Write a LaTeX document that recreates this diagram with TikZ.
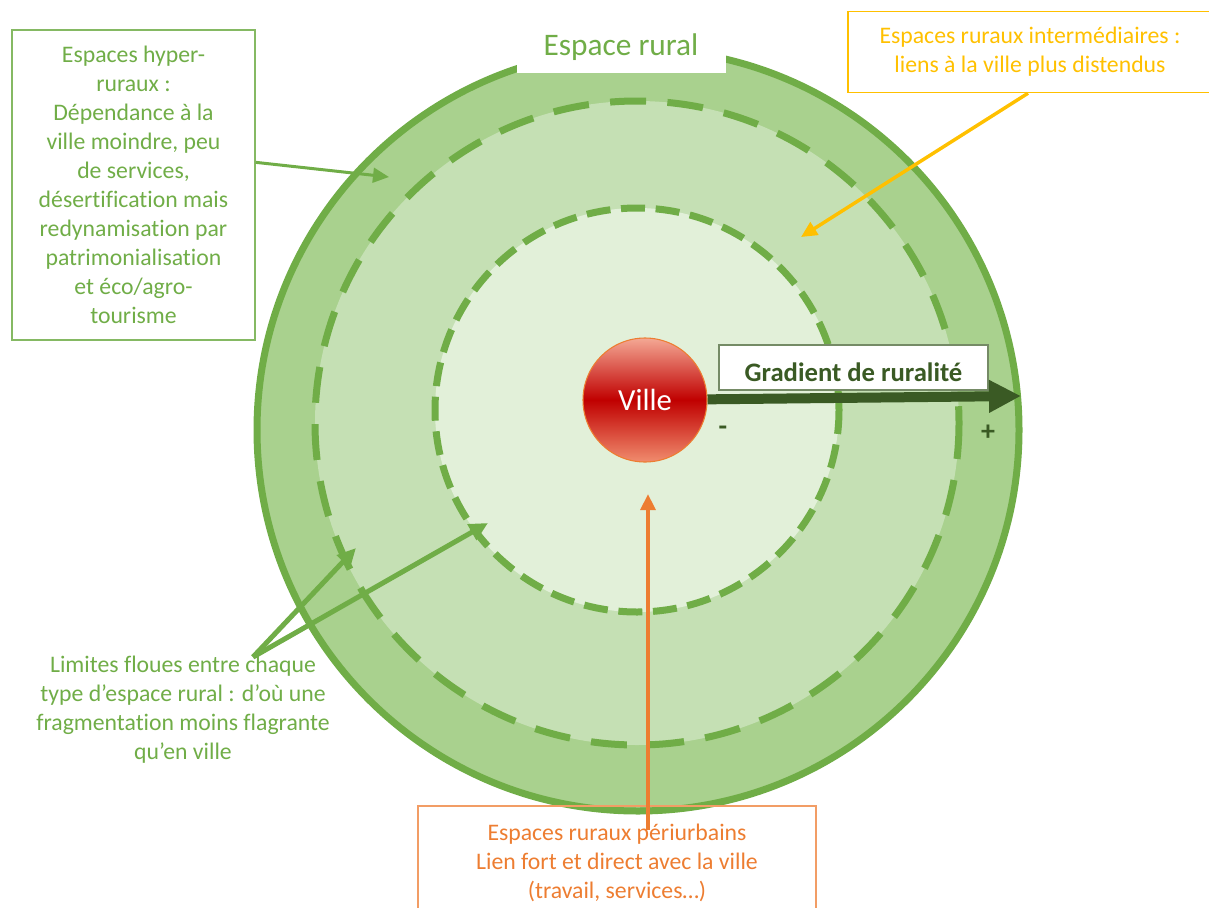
\documentclass[tikz,border=0pt]{standalone}
\usepackage{fontspec}
\setmainfont{Carlito}[Ligatures=NoCommon]
\usetikzlibrary{arrows.meta}

\definecolor{ruralgreen}{HTML}{70AD47}
\definecolor{outerfill}{HTML}{A9D18E}
\definecolor{middlefill}{HTML}{C5E0B4}
\definecolor{innerfill}{HTML}{E2F0D9}
\definecolor{darkgreen}{HTML}{3A5A24}
\definecolor{periorange}{HTML}{ED7D31}
\definecolor{interyellow}{HTML}{FFC000}
\definecolor{villetop}{HTML}{F4A894}
\definecolor{villemid}{HTML}{C00000}
\definecolor{villebot}{HTML}{F08C6E}

\tikzstyle{zonetext} = [font=\fontsize{17.8}{21.75}\selectfont, align=center, inner sep=0pt]
\tikzstyle{zonebox} = [zonetext, draw, line width=1.1pt]
\tikzstyle{ring} = [draw=ruralgreen, line width=5.25pt]
\tikzstyle{ville} = [circle, draw=periorange, line width=0.8pt, minimum size=93pt,
    top color=villetop, bottom color=villebot, middle color=villemid,
    text=white, font=\fontsize{23}{27}\selectfont]
\tikzstyle{pointer} = [draw, -{Triangle[length=12pt, width=11pt]}]
\tikzstyle{sign} = [zonetext, text=darkgreen, font=\fontsize{21}{24}\selectfont\bfseries]

\begin{document}
\begin{tikzpicture}[x=0.75pt, y=-0.75pt]

    \useasboundingbox (0,0) rectangle (1209,907);

    \draw [ring, fill=outerfill] (638,430) circle [radius=381];
    \draw [ring, fill=middlefill, dash pattern=on 27pt off 16pt] (637,423) circle [radius=322];
    \draw [ring, fill=innerfill, dash pattern=on 18pt off 8pt] (637,410) circle [radius=202];

    \node [fill=white, minimum width=156.75pt, minimum height=39pt, text=ruralgreen,
        font=\fontsize{23.5}{28}\selectfont] (rural) at (621,47) {Espace rural};

    \node [ville] (ville) at (645,400) {Ville};

    \node [zonebox, draw=darkgreen!70, fill=white, text=darkgreen, minimum width=201.75pt,
        minimum height=33.75pt, text height=21pt, text depth=0pt,
        font=\fontsize{20}{24}\selectfont\bfseries] (gradient) at (853.5,367.5) {Gradient de ruralité};
    \coordinate (gradtip) at (1021,396);
    \draw [darkgreen, line width=7.5pt, -{Triangle[length=24pt, width=23pt]}] (ville) -- (gradtip);
    \node [sign] (moins) at (723,431) {-};
    \node [sign] (plus) at (988,433) {+};

    \node [zonebox, draw=ruralgreen!85, text=ruralgreen, minimum width=182.25pt,
        minimum height=232.5pt] (hyper) at (133.5,185)
        {Espaces hyper-\\ruraux :\\Dépendance à la\\ville moindre, peu\\de services,\\désertification mais\\redynamisation par\\patrimonialisation\\et éco/agro-\\tourisme};
    \coordinate (hypertip) at (389,177);
    \path [pointer, ruralgreen, line width=2.25pt] ([yshift=17pt]hyper.east) -- (hypertip);

    \node [zonebox, draw=interyellow, text=interyellow, minimum width=273pt,
        minimum height=60.75pt] (inter) at (1030,52)
        {Espaces ruraux intermédiaires :\\liens à la ville plus distendus};
    \coordinate (intertip) at (801,237);
    \path [pointer, interyellow, line width=2.6pt] ([xshift=-1.5pt]inter.south) -- (intertip);

    \node [zonebox, draw=periorange!75, text=periorange, minimum width=298.5pt,
        minimum height=85.5pt] (peri) at (617,863)
        {Espaces ruraux périurbains\\Lien fort et direct avec la ville\\(travail, services…)};
    \coordinate (peritail) at (648,830);
    \coordinate (peritip) at (648,494);
    \path [pointer, periorange, line width=3pt] (peritail) -- (peritip);

    \node [zonetext, text=ruralgreen] (limites) at (183,710)
        {Limites floues entre chaque\\type d’espace rural : d’où une\\fragmentation moins flagrante\\qu’en ville};
    \coordinate (limapex) at (253,657);
    \coordinate (limtipa) at (356,548);
    \coordinate (limtipb) at (488,523);
    \path [pointer, ruralgreen, line width=3.75pt, -{Triangle[length=14pt, width=13pt]}] (limapex) -- (limtipa);
    \path [pointer, ruralgreen, line width=3.75pt, -{Triangle[length=14pt, width=13pt]}] (limapex) -- (limtipb);

\end{tikzpicture}
\end{document}
